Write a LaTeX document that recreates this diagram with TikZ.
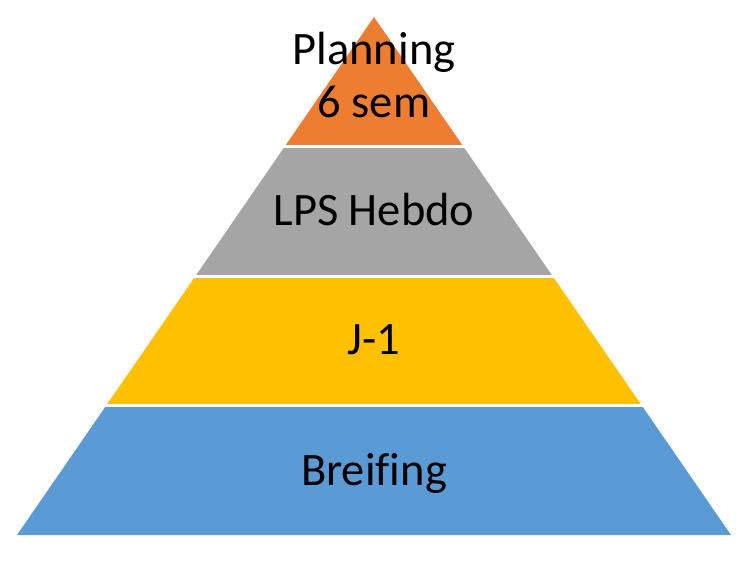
\documentclass[tikz,border=0pt]{standalone}
\usepackage{fontspec}
\setmainfont{Carlito}[Ligatures=NoCommon]
\definecolor{cOrange}{HTML}{ED7D31}
\definecolor{cGray}{HTML}{A5A5A5}
\definecolor{cYellow}{HTML}{FFC000}
\definecolor{cBlue}{HTML}{5B9BD5}
\begin{document}
\begin{tikzpicture}[x=1pt,y=-1pt,
  sep/.style={draw=white,line width=3pt},
  lbl/.style={anchor=base,inner sep=0pt,text=black,font=\fontsize{46.5}{53}\selectfont,align=center}]
\useasboundingbox (0,0) rectangle (754,560);
% layer boundaries
\coordinate (apex) at (374,17);
\coordinate (l1) at (284.75,146.5); \coordinate (r1) at (463.25,146.5);
\coordinate (l2) at (195.5,276);    \coordinate (r2) at (552.5,276);
\coordinate (l3) at (106.25,405.5); \coordinate (r3) at (641.75,405.5);
\coordinate (l4) at (17,535);       \coordinate (r4) at (731,535);
\fill[cOrange] (apex) -- (r1) -- (l1) -- cycle;
\fill[cGray] (l1) -- (r1) -- (r2) -- (l2) -- cycle;
\fill[cYellow] (l2) -- (r2) -- (r3) -- (l3) -- cycle;
\fill[cBlue] (l3) -- (r3) -- (r4) -- (l4) -- cycle;
\draw[sep] ([xshift=-3pt]l1) -- ([xshift=3pt]r1);
\draw[sep] ([xshift=-3pt]l2) -- ([xshift=3pt]r2);
\draw[sep] ([xshift=-3pt]l3) -- ([xshift=3pt]r3);
% labels
\node[lbl] (plan) at (374,64) {Planning};
\node[lbl] (sem) at (374,117) {6 sem};
\node[lbl] (lps) at (374,225) {LPS Hebdo};
\node[lbl] (j1) at (374,354) {J-1};
\node[lbl] (brief) at (374,485) {Breifing};
\end{tikzpicture}
\end{document}
